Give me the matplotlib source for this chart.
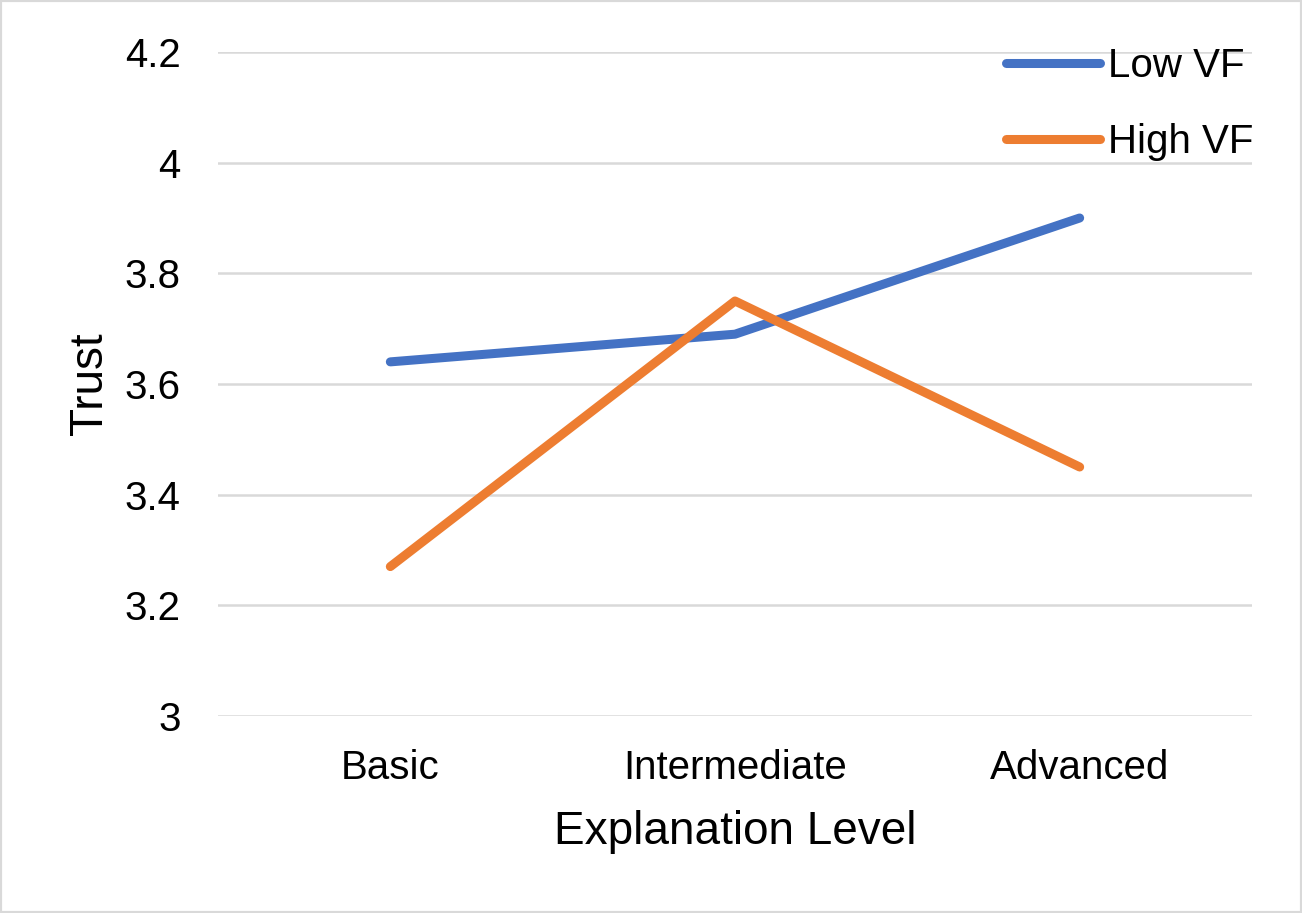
import matplotlib
matplotlib.use("Agg")
import matplotlib.pyplot as plt
from matplotlib.patches import Rectangle

categories = ["Basic", "Intermediate", "Advanced"]
low_vf = [3.64, 3.69, 3.90]
high_vf = [3.27, 3.75, 3.45]
yticks = [3.0, 3.2, 3.4, 3.6, 3.8, 4.0, 4.2]
ytick_labels = ["3", "3.2", "3.4", "3.6", "3.8", "4", "4.2"]

plt.rcParams['font.family'] = ['Liberation Sans', 'DejaVu Sans']

W, H = 1302, 913
fig = plt.figure(figsize=(W / 100, H / 100), dpi=100)
ax = fig.add_axes([218 / W, 1 - 716 / H, (1252 - 218) / W, (716 - 52) / H])

x = list(range(len(categories)))
ax.plot(x, low_vf, color="#4472C4", lw=6.5, solid_capstyle="round", label="Low VF", zorder=3)
ax.plot(x, high_vf, color="#ED7D31", lw=6.5, solid_capstyle="round", label="High VF", zorder=3)

ax.set_xlim(-0.5, 2.5)
ax.set_ylim(3.0, 4.2)
ax.set_xticks(x)
ax.set_xticklabels(categories)
ax.set_yticks(yticks)
ax.set_yticklabels(ytick_labels)
ax.tick_params(axis="both", length=0, labelsize=29)
ax.tick_params(axis="y", pad=27)
ax.tick_params(axis="x", pad=23.5)
ax.grid(axis="y", color="#D9D9D9", lw=1.8)
ax.set_axisbelow(True)
for s in ax.spines.values():
    s.set_visible(False)

ax.set_xlabel("Explanation Level", fontsize=33, labelpad=17)
ax.set_ylabel("Trust", fontsize=33, labelpad=9)

leg = ax.legend(loc="upper right", bbox_to_anchor=(1253 / W, 1 - 47 / H),
                bbox_transform=fig.transFigure, frameon=False, fontsize=29,
                handlelength=2.35, handletextpad=0.18, labelspacing=0.95,
                borderpad=0, borderaxespad=0)

fig.patches.append(Rectangle((0, 0), 1, 1, transform=fig.transFigure,
                             fill=False, edgecolor="#D9D9D9", lw=3, zorder=10))

fig.savefig("out.png", dpi=100)
